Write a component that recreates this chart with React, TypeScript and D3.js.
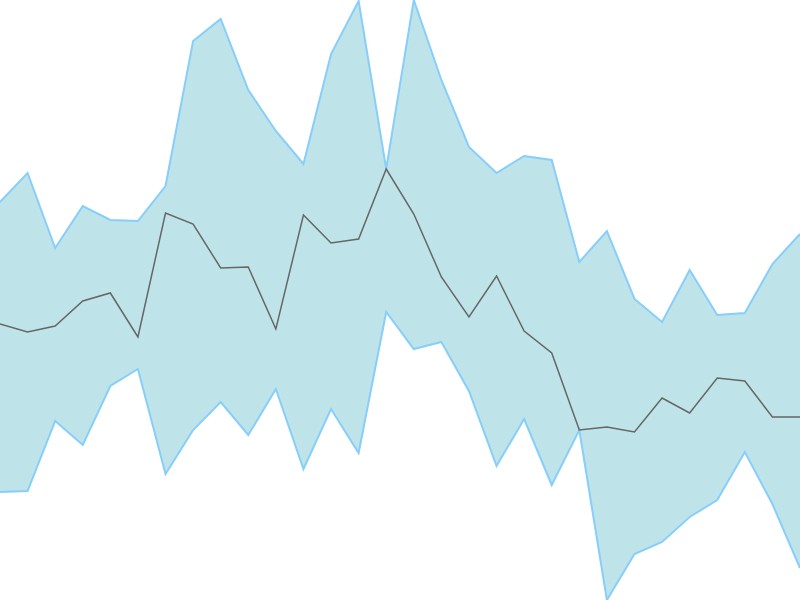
import { useEffect, useRef } from 'react'
import * as d3 from 'd3'

// values (0 = bottom, 600 = top)
const upper = [398, 427, 352, 394, 380, 379, 414, 559, 581, 510, 469, 436, 546, 599, 431, 600, 520, 453, 427, 444, 440, 338, 369, 301, 278, 330, 285, 287, 336, 366]
const middle = [276, 268, 274, 299, 307, 263, 387, 376, 332, 333, 271, 385, 357, 361, 431, 386, 323, 283, 324, 269, 247, 170, 173, 168, 202, 187, 222, 219, 183, 183]
const lower = [108, 109, 179, 155, 214, 231, 126, 170, 198, 165, 211, 131, 191, 147, 288, 251, 258, 209, 134, 181, 115, 170, 0, 46, 58, 83, 100, 148, 96, 32]

const width = 800
const height = 600

export default function App() {
  const svgRef = useRef<SVGSVGElement>(null)

  useEffect(() => {
    if (!svgRef.current) return
    const svg = d3.select(svgRef.current)
    svg.selectAll('*').remove()

    const x = d3.scaleLinear().domain([0, upper.length - 1]).range([0, width])
    const y = d3.scaleLinear().domain([0, 600]).range([height, 0])

    const idx = d3.range(upper.length)

    const area = d3.area<number>()
      .x(i => x(i))
      .y0(i => y(lower[i]))
      .y1(i => y(upper[i]))

    svg.append('path')
      .datum(idx)
      .attr('d', area)
      .attr('fill', '#bee4ea')
      .attr('stroke', 'none')

    const edge = (vals: number[]) => d3.line<number>().x(i => x(i)).y(i => y(vals[i]))

    ;[upper, lower].forEach(vals => {
      svg.append('path')
        .datum(idx)
        .attr('d', edge(vals))
        .attr('fill', 'none')
        .attr('stroke', '#87cefa')
        .attr('stroke-width', 2)
    })

    svg.append('path')
      .datum(idx)
      .attr('d', edge(middle))
      .attr('fill', 'none')
      .attr('stroke', '#666')
      .attr('stroke-width', 1.5)
  }, [])

  return (
    <svg
      ref={svgRef}
      width={width}
      height={height}
      style={{ position: 'absolute', left: 0, top: 0, background: '#fff' }}
    />
  )
}
